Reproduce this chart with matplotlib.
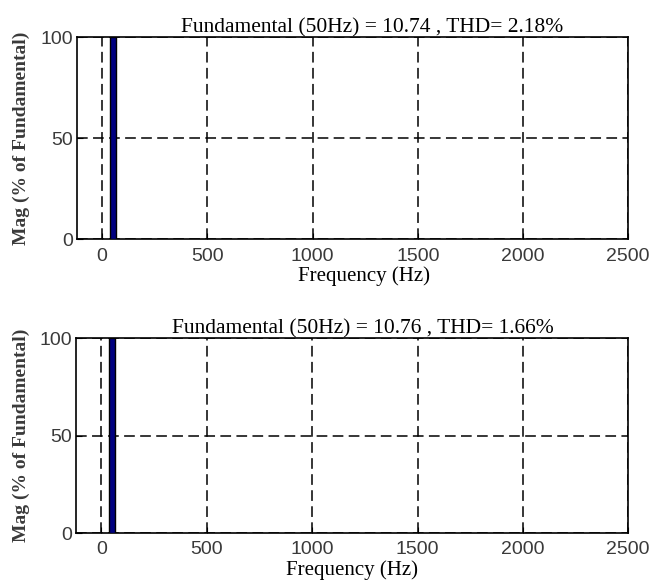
import matplotlib

matplotlib.use("Agg")
import matplotlib.pyplot as plt

# harmonic spectrum (only the fundamental is visible at this scale)
freq_hz = [50]
mag_top = [100.0]
mag_bottom = [100.0]
titles = [
    "Fundamental (50Hz) = 10.74 , THD= 2.18%",
    "Fundamental (50Hz) = 10.76 , THD= 1.66%",
]
x_ticks = [0, 500, 1000, 1500, 2000, 2500]
y_ticks = [0, 50, 100]

SERIF = ["Liberation Serif", "DejaVu Serif"]
SANS = ["Liberation Sans", "DejaVu Sans"]

fig = plt.figure(figsize=(6.51, 5.82), dpi=100)
positions = [
    [0.118, 0.589, 0.847, 0.347],
    [0.117, 0.084, 0.848, 0.335],
]
title_x = [0.535, 0.52]
xlabel_x = [0.52, 0.5]

for pos, mags, title, tx, lx in zip(positions, [mag_top, mag_bottom], titles, title_x, xlabel_x):
    ax = fig.add_axes(pos)
    ax.bar(freq_hz, mags, width=28, color="#000080", edgecolor="black", linewidth=1.0, zorder=3)
    ax.set_xlim(-120, 2500)
    ax.set_ylim(0, 100)
    ax.set_xticks(x_ticks)
    ax.set_yticks(y_ticks)
    ax.grid(True, color="black", linestyle=(0, (7, 3.5)), linewidth=1.1, zorder=1)
    ax.tick_params(direction="in", length=4, labelsize=14, pad=3)
    ax.tick_params(axis="x", pad=6)
    for lab in ax.get_xticklabels() + ax.get_yticklabels():
        lab.set_family(SANS)
        lab.set_color("#3a3a3a")
    for spine in ax.spines.values():
        spine.set_linewidth(1.2)
    ax.set_title(title, family=SERIF, fontsize=15.5, pad=2, x=tx)
    ax.set_xlabel("Frequency (Hz)", family=SERIF, fontsize=15, labelpad=1, x=lx)
    ax.set_ylabel("Mag (% of Fundamental)", family=SERIF, fontsize=14, fontweight="bold",
                  color="#3a3a3a", labelpad=7)

fig.savefig("out.png", dpi=100)
